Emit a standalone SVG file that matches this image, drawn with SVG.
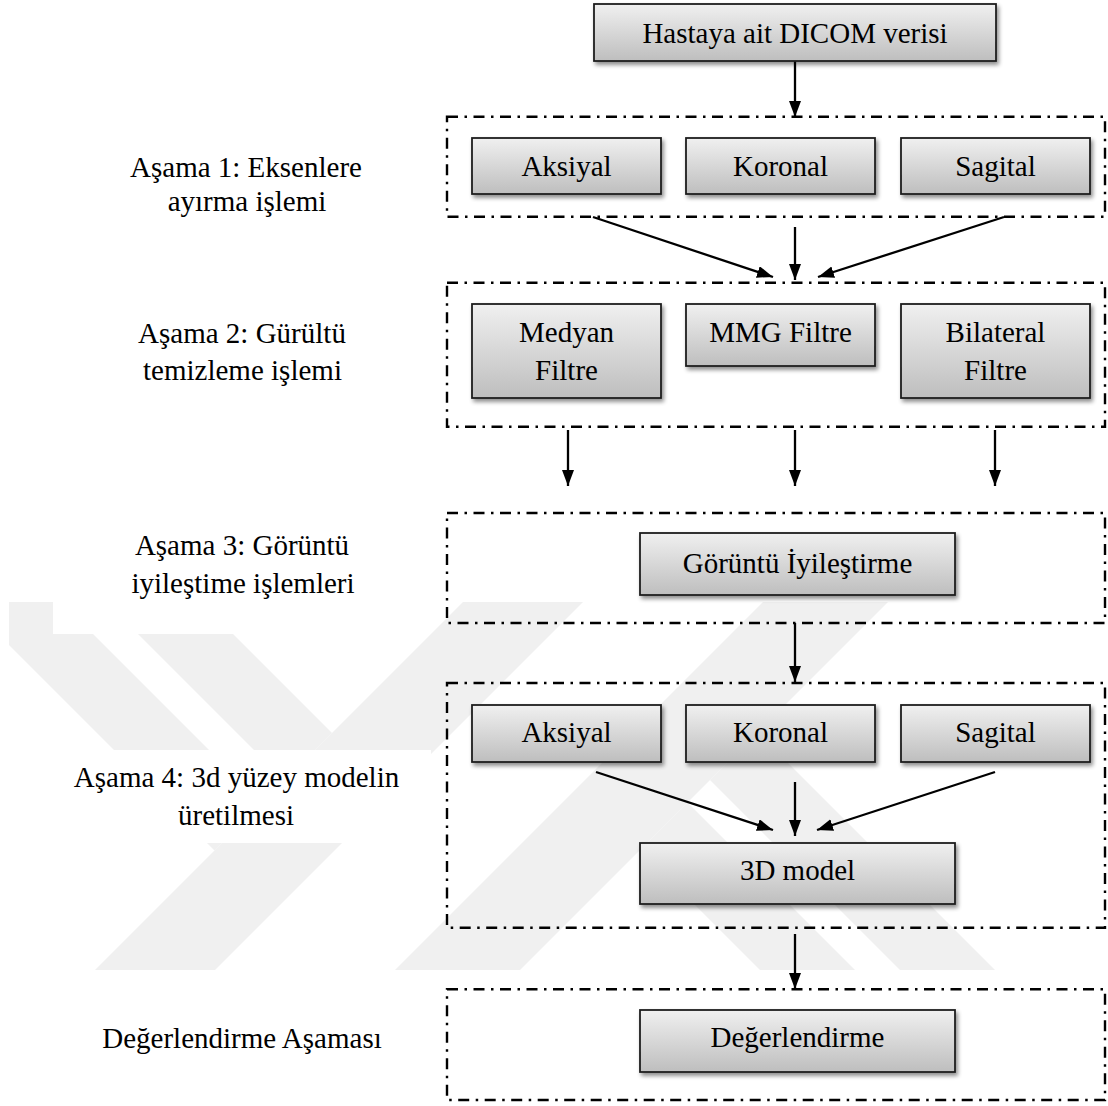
<svg xmlns="http://www.w3.org/2000/svg" width="1108" height="1106" viewBox="0 0 1108 1106">
  <defs>
    <style>
      .t { font-family: "Liberation Serif", "Times New Roman", serif; font-size: 29px; fill: #000; text-anchor: middle; }
      .wm { fill: #f0f0f0; stroke: none; }
      .frame { fill: none; stroke: #000; stroke-width: 2.4; stroke-dasharray: 11 6.5 2.5 6.5; }
      .box { fill: url(#g); stroke: #1e1e1e; stroke-width: 1.8; filter: url(#sh); }
      .arr { stroke: #000; stroke-width: 2.3; fill: none; marker-end: url(#ah); }
    </style>
    <linearGradient id="g" x1="0" y1="0" x2="0" y2="1">
      <stop offset="0" stop-color="#f0f0f0"/>
      <stop offset="1" stop-color="#bebebe"/>
    </linearGradient>
    <filter id="sh" x="-10%" y="-20%" width="130%" height="160%">
      <feGaussianBlur in="SourceAlpha" stdDeviation="2"/>
      <feOffset dx="2" dy="3" result="b"/>
      <feComponentTransfer><feFuncA type="linear" slope="0.45"/></feComponentTransfer>
      <feMerge><feMergeNode/><feMergeNode in="SourceGraphic"/></feMerge>
    </filter>
    <marker id="ah" markerUnits="userSpaceOnUse" markerWidth="17" markerHeight="13" refX="16" refY="6" orient="auto">
      <path d="M0,0 L16,6 L0,12 z" fill="#000"/>
    </marker>
  </defs>

  <rect x="0" y="0" width="1108" height="1106" fill="#fff"/>

  <g id="watermark">
    <polygon class="wm" points="9,602 61,602 262,803 214.5,850.5 9,645"/>
    <polygon class="wm" points="106,602 201,602 332,733 284.5,780.5"/>
    <polygon class="wm" points="463,602 583,602 215,970 95,970"/>
    <polygon class="wm" points="763,602 888,602 520,970 395,970"/>
    <polygon class="wm" points="757.5,732.5 710,780 900,970 995,970"/>
    <polygon class="wm" points="687.5,802.5 640,850 760,970 855,970"/>
  </g>

  <g id="label-backgrounds" fill="#fff">
    <rect x="53" y="520" width="378" height="114"/>
    <rect x="0" y="750" width="431" height="93"/>
  </g>

  <g id="stage-labels">
    <text class="t" x="246" y="177">Aşama 1: Eksenlere</text>
    <text class="t" x="247" y="211">ayırma işlemi</text>
    <text class="t" x="242" y="343">Aşama 2: Gürültü</text>
    <text class="t" x="242.5" y="380">temizleme işlemi</text>
    <text class="t" x="242" y="555">Aşama 3: Görüntü</text>
    <text class="t" x="243" y="593">iyileştime işlemleri</text>
    <text class="t" x="236.5" y="787">Aşama 4: 3d yüzey modelin</text>
    <text class="t" x="236" y="825">üretilmesi</text>
    <text class="t" x="242" y="1048">Değerlendirme Aşaması</text>
  </g>

  <g id="frames">
    <rect id="frame-1" class="frame" x="447" y="116.7" width="658" height="100"/>
    <rect id="frame-2" class="frame" x="447" y="282.7" width="658" height="144"/>
    <rect id="frame-3" class="frame" x="447" y="513" width="658" height="110"/>
    <rect id="frame-4" class="frame" x="447" y="683" width="658" height="244.7"/>
    <rect id="frame-5" class="frame" x="447" y="989.3" width="658" height="110.7"/>
  </g>

  <g id="connectors">
    <line class="arr" x1="795" y1="61" x2="795" y2="117"/>
    <line class="arr" x1="593" y1="217" x2="773" y2="277"/>
    <line class="arr" x1="795" y1="227" x2="795" y2="280"/>
    <line class="arr" x1="1004" y1="217" x2="818" y2="277"/>
    <line class="arr" x1="568" y1="430" x2="568" y2="486"/>
    <line class="arr" x1="795" y1="430" x2="795" y2="486"/>
    <line class="arr" x1="995" y1="430" x2="995" y2="486"/>
    <line class="arr" x1="795" y1="623" x2="795" y2="682"/>
    <line class="arr" x1="596" y1="772" x2="773" y2="830"/>
    <line class="arr" x1="795" y1="782" x2="795" y2="836"/>
    <line class="arr" x1="995" y1="772" x2="817" y2="830"/>
    <line class="arr" x1="795" y1="934" x2="795" y2="989"/>
  </g>

  <g id="node-dicom">
    <rect class="box" x="594" y="4" width="402" height="57"/>
    <text class="t" x="795" y="43">Hastaya ait DICOM verisi</text>
  </g>
  <g id="node-aksiyal-1">
    <rect class="box" x="472" y="138" width="189" height="56"/>
    <text class="t" x="566.5" y="176">Aksiyal</text>
  </g>
  <g id="node-koronal-1">
    <rect class="box" x="686" y="138" width="189" height="56"/>
    <text class="t" x="780.5" y="176">Koronal</text>
  </g>
  <g id="node-sagital-1">
    <rect class="box" x="901" y="138" width="189" height="56"/>
    <text class="t" x="995.5" y="176">Sagital</text>
  </g>
  <g id="node-medyan">
    <rect class="box" x="472" y="304" width="189" height="94"/>
    <text class="t" x="566.5" y="341.5">Medyan</text>
    <text class="t" x="566.5" y="379.5">Filtre</text>
  </g>
  <g id="node-mmg">
    <rect class="box" x="686" y="304" width="189" height="62"/>
    <text class="t" x="780.5" y="341.5">MMG Filtre</text>
  </g>
  <g id="node-bilateral">
    <rect class="box" x="901" y="304" width="189" height="94"/>
    <text class="t" x="995.5" y="341.5">Bilateral</text>
    <text class="t" x="995.5" y="379.5">Filtre</text>
  </g>
  <g id="node-goruntu">
    <rect class="box" x="640" y="533" width="315" height="62"/>
    <text class="t" x="797.5" y="573">Görüntü İyileştirme</text>
  </g>
  <g id="node-aksiyal-2">
    <rect class="box" x="472" y="705" width="189" height="57"/>
    <text class="t" x="566.5" y="742">Aksiyal</text>
  </g>
  <g id="node-koronal-2">
    <rect class="box" x="686" y="705" width="189" height="57"/>
    <text class="t" x="780.5" y="742">Koronal</text>
  </g>
  <g id="node-sagital-2">
    <rect class="box" x="901" y="705" width="189" height="57"/>
    <text class="t" x="995.5" y="742">Sagital</text>
  </g>
  <g id="node-3d">
    <rect class="box" x="640" y="843" width="315" height="61"/>
    <text class="t" x="797.5" y="880">3D model</text>
  </g>
  <g id="node-degerlendirme">
    <rect class="box" x="640" y="1010" width="315" height="62"/>
    <text class="t" x="797.5" y="1047">Değerlendirme</text>
  </g>
</svg>
